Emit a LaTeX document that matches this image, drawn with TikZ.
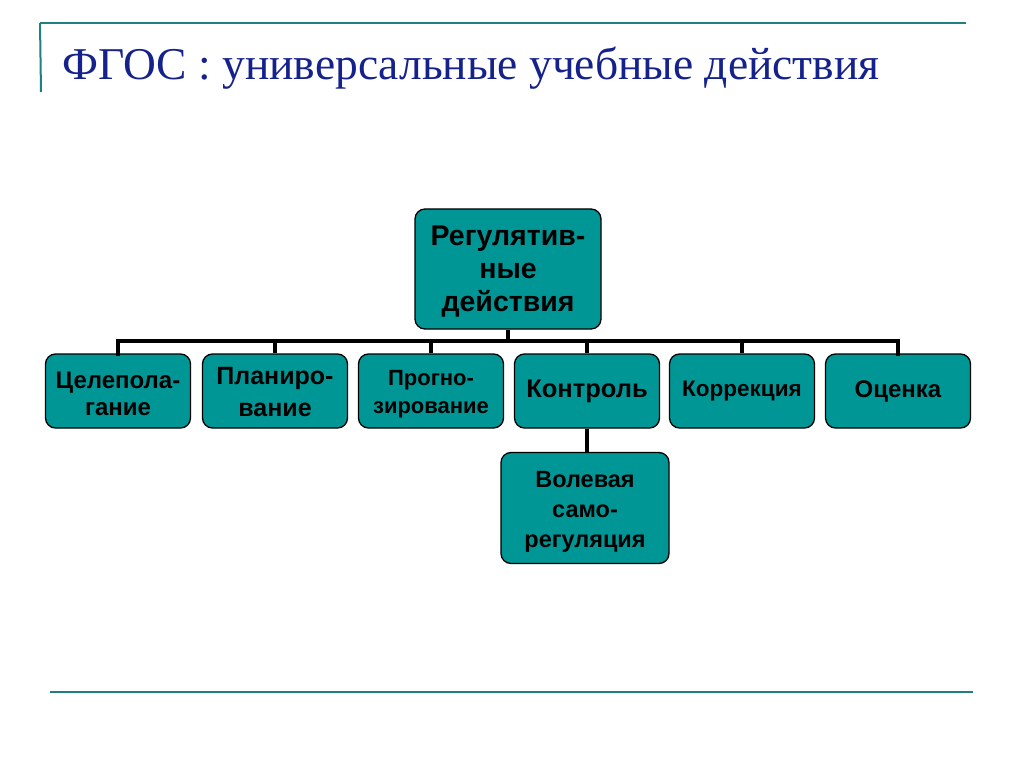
\documentclass[tikz,border=0pt]{standalone}
\usepackage{fontspec}
\setmainfont{Liberation Serif}
\newfontfamily\arialfont{Liberation Sans}
\definecolor{boxfill}{RGB}{0,150,150}
\definecolor{rulecol}{RGB}{30,128,128}
\definecolor{titlecol}{RGB}{22,34,140}
\tikzset{
  box/.style={draw=black, line width=1.3pt, fill=boxfill, rounded corners=10pt,
    inner sep=0pt},
  rowbox/.style={box, minimum width=145pt, minimum height=74pt},
  lbl/.style={inner sep=0pt, align=center, text=black},
  conn/.style={draw=black, line width=4.5pt},
  rulel/.style={draw=rulecol, line width=2pt}
}
\newcommand{\bxfont}[2]{\arialfont\bfseries\fontsize{#1}{#2}\selectfont}
\begin{document}
\begin{tikzpicture}[x=1pt,y=-1pt]
\useasboundingbox (0,0) rectangle (1024,767);
\fill[white] (0,0) rectangle (1024,767);
% frame rules
\coordinate (r1a) at (40,23);
\coordinate (r1b) at (966,23);
\coordinate (r2a) at (41,92);
\coordinate (r3a) at (50,692);
\coordinate (r3b) at (973,692);
\draw[rulel] (r1a) -- (r1b);
\draw[rulel] (r1a) -- (r2a);
\draw[rulel] (r3a) -- (r3b);
% title
\node[anchor=base west, inner sep=0pt, text=titlecol, font=\fontsize{45.5}{50}\selectfont] (title) at (62,80) {ФГОС : универсальные учебные действия};
% boxes
\node[box, minimum width=186pt, minimum height=120pt] (top) at (508,269) {};
\node[rowbox] (n1) at (118,391) {};
\node[rowbox] (n2) at (275,391) {};
\node[rowbox] (n3) at (431,391) {};
\node[rowbox] (n4) at (587,391) {};
\node[rowbox] (n5) at (742,391) {};
\node[rowbox] (n6) at (898,391) {};
\node[box, minimum width=168pt, minimum height=111pt] (n7) at (585,508) {};
% labels
\node[lbl, font={\bxfont{28.5}{33}}] (topt) at ([yshift=-3pt]top.center) {Регулятив-\\ные\\действия};
\node[lbl, font={\bxfont{24}{27}}] (n1t) at ([yshift=-3pt]n1.center) {Целепола-\\гание};
\node[lbl, font={\bxfont{25}{32}}] (n2t) at ([yshift=-1pt]n2.center) {Планиро-\\вание};
\node[lbl, font={\bxfont{22}{28}}] (n3t) at ([yshift=-3pt]n3.center) {Прогно-\\зирование};
\node[lbl, font={\bxfont{25.5}{30}}] (n4t) at (n4.center) {Контроль};
\node[lbl, font={\bxfont{22.5}{27}}] (n5t) at (n5.center) {Коррекция};
\node[lbl, font={\bxfont{24}{28}}] (n6t) at ([yshift=-1pt]n6.center) {Оценка};
\node[lbl, font={\bxfont{23.5}{30}}] (n7t) at ([yshift=-4pt]n7.center) {Волевая\\само-\\регуляция};
% connectors
\coordinate (bus) at (508,341);
\draw[conn] (top.south) -- (bus);
\draw[conn, line cap=rect] (n1.north) |- (bus) -| (n6.north);
\draw[conn] (n2.north) -- (n2.north |- bus);
\draw[conn] (n3.north) -- (n3.north |- bus);
\draw[conn] (n4.north) -- (n4.north |- bus);
\draw[conn] (n5.north) -- (n5.north |- bus);
\draw[conn] (n4.south) -- (n4.south |- n7.north);
\end{tikzpicture}
\end{document}
